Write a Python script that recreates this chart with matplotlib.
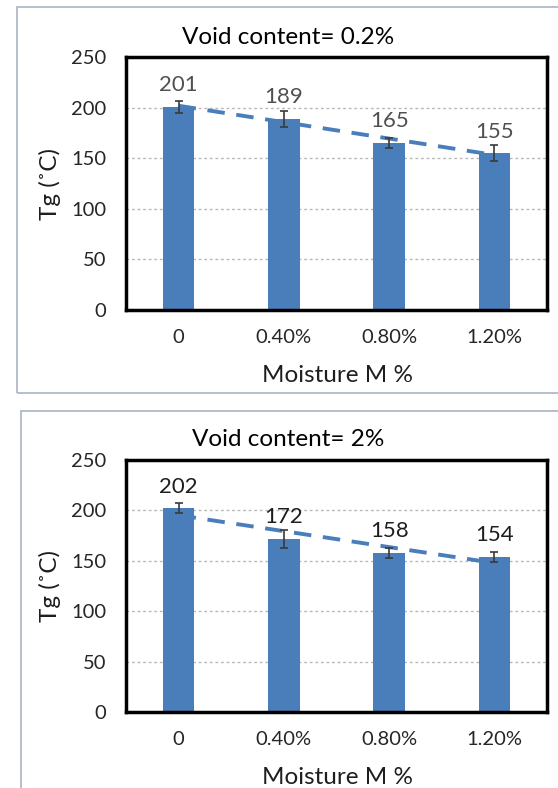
import numpy as np
import matplotlib
matplotlib.use("Agg")
import matplotlib.pyplot as plt
from matplotlib.patches import Rectangle

plt.rcParams['font.family'] = ['Lato', 'DejaVu Sans']

categories = ["0", "0.40%", "0.80%", "1.20%"]
titles = ["Void content= 0.2%", "Void content= 2%"]
tg_void_02 = [201, 189, 165, 155]
err_void_02 = [6, 8, 5, 8]
tg_void_2 = [202, 172, 158, 154]
err_void_2 = [5, 9, 5, 5]
yticks = [0, 50, 100, 150, 200, 250]

W, H = 558, 788
fig = plt.figure(figsize=(W / 100, H / 100), dpi=100)

def fx(px):
    return px / W

def fy(py):
    return 1 - py / H

# outer chart-area frames
frame_col = '#aab4c4'
fig.patches.append(Rectangle((fx(17), fy(393)), fx(560) - fx(17), fy(7) - fy(393),
                             transform=fig.transFigure, fill=False, lw=1.2,
                             edgecolor=frame_col, zorder=0))
fig.patches.append(Rectangle((fx(21), fy(800)), fx(560) - fx(21), fy(411) - fy(800),
                             transform=fig.transFigure, fill=False, lw=1.2,
                             edgecolor=frame_col, zorder=0))

panels = [
    dict(vals=tg_void_02, errs=err_void_02, title=titles[0], top=57, bottom=310,
         title_y=37, tick_y=338, xlabel_y=375, lab_col='#505050'),
    dict(vals=tg_void_2, errs=err_void_2, title=titles[1], top=460, bottom=712,
         title_y=440, tick_y=740, xlabel_y=777, lab_col='#1e1e1e'),
]

bar_col = '#4a7ebb'
x = np.arange(len(categories))

for p in panels:
    ax = fig.add_axes([fx(126), fy(p['bottom']), fx(547) - fx(126),
                       fy(p['top']) - fy(p['bottom'])])
    ax.set_xlim(-0.5, len(categories) - 0.5)
    ax.set_ylim(0, 250)
    ax.set_yticks(yticks)
    ax.set_yticklabels([str(t) for t in yticks], fontsize=14.5, color='#262626')
    ax.set_xticks(x)
    ax.set_xticklabels(categories, fontsize=14.5, color='#262626')
    ax.tick_params(length=0, axis='y', pad=14)
    ax.tick_params(length=0, axis='x', pad=(p['tick_y'] - p['bottom']) - 14)
    for s in ax.spines.values():
        s.set_linewidth(2.5)
        s.set_color('black')
        s.set_zorder(5)
    for g in yticks[1:-1]:
        ax.axhline(g, color='#b8b8b8', lw=1.0, ls=(0, (2, 2)), zorder=0)

    vals = np.array(p['vals'], dtype=float)
    # linear trendline (behind bars)
    coef = np.polyfit(x, vals, 1)
    tx = np.array([x[0], x[-1]])
    ax.plot(tx, np.polyval(coef, tx), color='#4a7ebb', lw=2.8,
            ls=(0, (4.5, 3)), zorder=1)

    ax.bar(x, vals, width=0.3, color=bar_col, zorder=2)
    ax.errorbar(x, vals, yerr=p['errs'], fmt='none', ecolor='#3a3a3a',
                elinewidth=1.2, capsize=3, capthick=1.2, zorder=3)
    for xi, v in zip(x, vals):
        ax.annotate(f"{int(v)}", (xi, v), xytext=(0, 15.5), textcoords='offset points',
                    ha='center', va='center', fontsize=16, color=p['lab_col'])

    fig.text(fx(288), fy(p['title_y']), p['title'], ha='center', va='center',
             fontsize=17.5, color='black')
    fig.text(fx(337), fy(p['xlabel_y']), "Moisture M %", ha='center', va='center',
             fontsize=17.5, color='#1e1e1e')
    fig.text(fx(50), fy((p['top'] + p['bottom']) / 2), "Tg (˚C)", ha='center',
             va='center', rotation=90, fontsize=17.5, color='#1e1e1e')

fig.savefig("out.png", dpi=100)
